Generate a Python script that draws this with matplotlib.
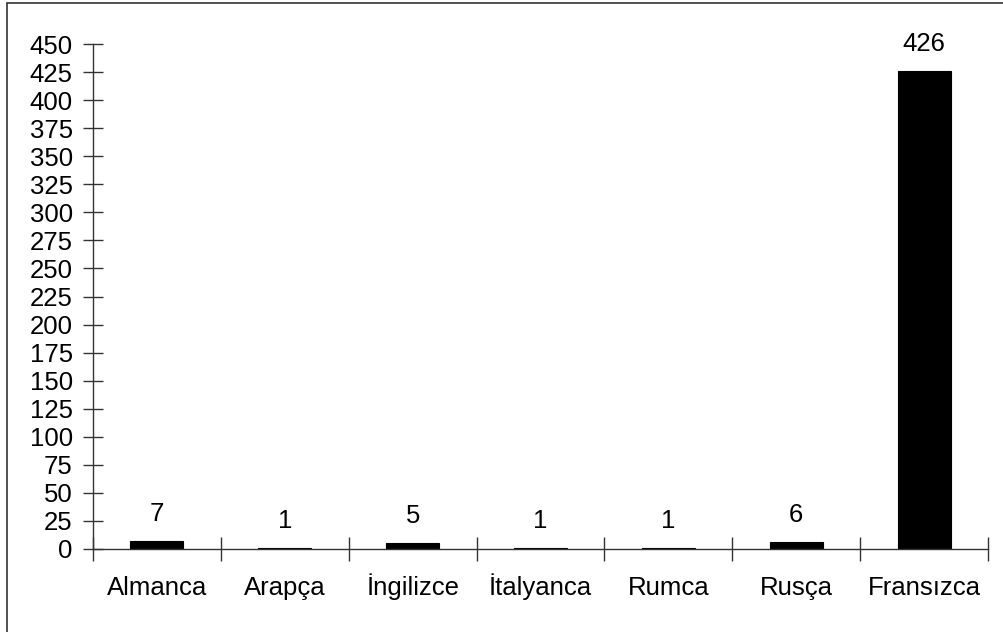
import matplotlib.pyplot as plt
from matplotlib.patches import Rectangle
from matplotlib.ticker import MultipleLocator, FixedLocator

# Dillere göre eser sayıları
diller = ["Almanca", "Arapça", "İngilizce", "İtalyanca", "Rumca", "Rusça", "Fransızca"]
sayilar = [7, 1, 5, 1, 1, 6, 426]

plt.rcParams['font.family'] = ['Liberation Sans', 'DejaVu Sans']

fig = plt.figure(figsize=(10.04, 6.32), dpi=100)

# dış çerçeve
fig.patches.append(Rectangle((7.5 / 1004, -0.05), 1.1, (632 - 3) / 632 + 0.05,
                             transform=fig.transFigure, fill=False,
                             edgecolor='#333333', linewidth=1.2))

ax = fig.add_axes([93 / 1004, (632 - 549) / 632, (988 - 93) / 1004, (549 - 44) / 632])

x = [i + 0.5 for i in range(len(diller))]
bars = ax.bar(x, sayilar, width=0.415, color='black', edgecolor='black', linewidth=0.8)

for xi, v in zip(x, sayilar):
    ax.annotate(str(v), (xi, v), xytext=(0, 14.5), textcoords='offset points',
                ha='center', va='baseline', fontsize=18.5)

ax.set_xlim(0, len(diller))
ax.set_ylim(0, 450)
ax.yaxis.set_major_locator(MultipleLocator(25))

# kategori sınırlarında çentik, ortada etiket
ax.xaxis.set_major_locator(FixedLocator(range(len(diller) + 1)))
ax.xaxis.set_major_formatter(plt.NullFormatter())
ax.xaxis.set_minor_locator(FixedLocator(x))
ax.set_xticklabels(diller, minor=True, va='baseline')

ax.tick_params(axis='x', which='major', direction='inout', length=17, width=1, color='#333333')
ax.tick_params(axis='x', which='minor', length=0, pad=33, labelsize=18.5)
ax.tick_params(axis='y', direction='inout', length=15, width=1, color='#333333',
               pad=7, labelsize=18.5)

for s in ['top', 'right']:
    ax.spines[s].set_visible(False)
for s in ['left', 'bottom']:
    ax.spines[s].set_color('#333333')
    ax.spines[s].set_linewidth(1)

fig.savefig("out.png", dpi=100)
